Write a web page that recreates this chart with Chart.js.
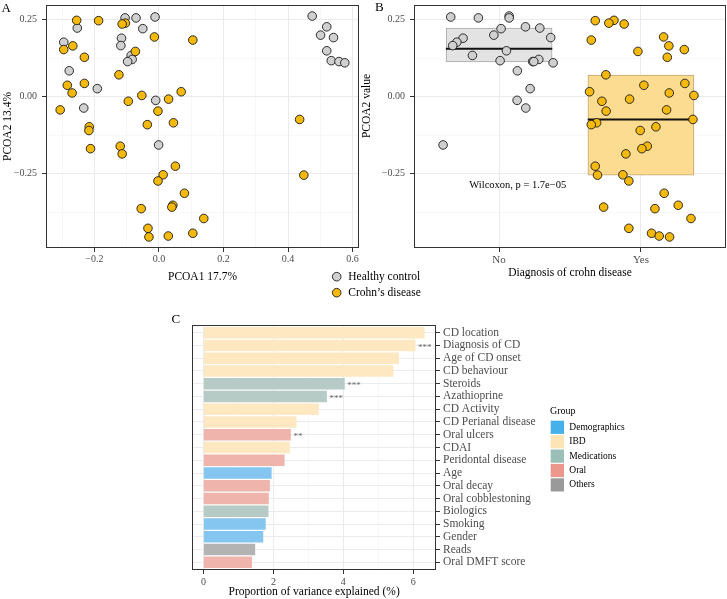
<!DOCTYPE html>
<html><head><meta charset="utf-8">
<script src="https://cdn.jsdelivr.net/npm/chart.js@4.4.1/dist/chart.umd.min.js"></script>
<style>
html,body{margin:0;padding:0;background:#fff;}
#wrap{position:relative;width:727px;height:599px;overflow:hidden;background:#fff;}
canvas{position:absolute;left:-30px;top:-30px;}
</style></head><body>
<div id="wrap">
<canvas id="cA" width="787" height="659"></canvas>
<canvas id="cB" width="787" height="659"></canvas>
<canvas id="cC" width="787" height="659"></canvas>
</div>
<script>
// ---------- DATA ----------
// Healthy controls: PCoA axis 1, axis 2, and horizontal jitter used in panel B
const hcPCOA1 = [0.475,-0.012,-0.105,-0.071,0.520,-0.253,-0.050,0.501,0.541,-0.116,-0.295,-0.118,0.520,-0.086,-0.083,0.534,-0.097,0.558,0.576,-0.278,-0.191,-0.010,-0.233,-0.001];
const hcPCOA2 = [0.262,0.259,0.256,0.256,0.227,0.223,0.221,0.200,0.192,0.190,0.177,0.166,0.149,0.134,0.121,0.117,0.114,0.114,0.110,0.084,0.026,-0.012,-0.037,-0.157];
const hcJitter = [0.071,-0.341,-0.146,0.071,0.186,0.287,0.014,-0.037,0.364,-0.254,-0.298,-0.327,0.052,-0.188,0.280,0.007,0.237,0.245,0.381,0.129,0.219,0.127,0.188,-0.395];
// Crohn's disease
const cdPCOA1 = [-0.255,-0.187,-0.104,-0.114,-0.014,0.105,-0.267,-0.295,-0.073,-0.231,-0.124,-0.231,-0.284,0.069,-0.269,-0.053,0.030,-0.095,-0.306,-0.003,0.436,0.045,-0.036,-0.216,-0.217,-0.120,-0.212,-0.114,0.051,0.013,0.449,-0.003,0.079,0.043,0.040,-0.055,0.139,-0.034,0.105,0.029,-0.031];
const cdPCOA2 = [0.248,0.247,0.239,0.236,0.194,0.184,0.165,0.153,0.147,0.128,0.071,0.043,0.037,0.016,0.012,0.004,-0.008,-0.015,-0.043,-0.047,-0.074,-0.085,-0.091,-0.098,-0.110,-0.161,-0.169,-0.186,-0.226,-0.254,-0.255,-0.274,-0.314,-0.353,-0.359,-0.364,-0.396,-0.428,-0.444,-0.453,-0.456];
const cdJitter = [-0.190,-0.322,-0.226,-0.118,0.160,-0.350,0.197,0.306,-0.021,0.186,-0.247,0.310,0.021,-0.362,0.200,0.374,-0.080,-0.275,0.181,-0.245,0.367,-0.312,-0.350,0.106,-0.005,0.045,0.007,-0.106,-0.322,-0.127,-0.306,-0.085,0.164,0.263,-0.263,0.099,0.353,-0.085,0.075,0.129,0.202];

// Panel B boxes
const boxGroups = ['No', 'Yes'];
const boxQ1 = [0.113, -0.255];
const boxMedian = [0.156, -0.074];
const boxQ3 = [0.223, 0.070];
const wilcoxonLabel = 'Wilcoxon, p = 1.7e\u221205';
const wilcoxonAt = [0.79, -0.288];

// Panel C
const features = ['CD location','Diagnosis of CD','Age of CD onset','CD behaviour','Steroids','Azathioprine','CD Activity','CD Perianal disease','Oral ulcers','CDAI','Peridontal disease','Age','Oral decay','Oral cobblestoning','Biologics','Smoking','Gender','Reads','Oral DMFT score'];
const variance = [6.32,6.06,5.59,5.43,4.04,3.53,3.30,2.66,2.50,2.47,2.32,1.95,1.90,1.87,1.86,1.78,1.71,1.48,1.39];
const featureGroup = ['IBD','IBD','IBD','IBD','Medications','Medications','IBD','IBD','Oral','IBD','Oral','Demographics','Oral','Oral','Medications','Demographics','Demographics','Others','Oral'];
const significance = ['','***','','','***','***','','','**','','','','','','','','','',''];
const groupNames = ['Demographics','IBD','Medications','Oral','Others'];

// Ticks
const pcoa1Ticks = [-0.3,-0.2,-0.1,0,0.1,0.2,0.3,0.4,0.5,0.6];
const pcoa1Labeled = [-0.2,0,0.2,0.4,0.6];
const pcoa2Ticks = [-0.375,-0.25,-0.125,0,0.125,0.25];
const pcoa2Labeled = [-0.25,0,0.25];
const varTicks = [0,1,2,3,4,5,6];
const varLabeled = [0,2,4,6];

// ---------- STYLE ----------
const OFF = 30; // canvases are shifted by -OFF so layout padding never clips
const SERIF = "'Liberation Serif','Times New Roman',serif";
const tickFont = {family: SERIF, size: 10};
const titleFont = {family: SERIF, size: 11.5};
const GRID_MAJOR = '#ebebeb', GRID_MINOR = '#f4f4f4', AXIS_DARK = '#333333';
const HC_FILL = '#d0d0d0', CD_FILL = '#f5b90b', PT_EDGE = '#1a1a1a';
const barColors = {Demographics:'#84c6ef', IBD:'#fde8c2', Medications:'#b6cbc6', Oral:'#efb4ab', Others:'#b3b3b3'};
const keyColors = {Demographics:'#45b1e8', IBD:'#fde4b4', Medications:'#9bbfb6', Oral:'#ec978b', Others:'#9a9a9a'};

function near(a,b){return Math.abs(a-b)<1e-9;}
function isIn(list,v){return list.some(t=>near(t,v));}
function fmt(v,d){const s=Math.abs(v).toFixed(d);return (v<-1e-12?'\u2212':'')+s;}
function pad(l,r,t,b){return {left:l+OFF,right:r+OFF,top:t+OFF,bottom:b+OFF};}

function linearAxis(o){
  return {
    type:'linear', min:o.min, max:o.max, reverse:!!o.reverse, position:o.position, offset:false, beginAtZero:false,
    afterBuildTicks: s => { s.ticks = o.ticks.map(v => ({value:v})); },
    afterFit: s => { if (o.width!=null) s.width=o.width; if (o.height!=null) s.height=o.height; },
    ticks:{autoSkip:false, maxRotation:0, minRotation:0, padding:o.pad, font:o.font||tickFont, color:'#4d4d4d',
      callback: v => o.label(v)},
    grid:{drawTicks:true, tickLength:4, drawOnChartArea:true, offset:false,
      color: c => (c.tick && isIn(o.major,c.tick.value)) ? GRID_MAJOR : GRID_MINOR,
      lineWidth: c => (c.tick && isIn(o.major,c.tick.value)) ? 1 : 0.6,
      tickColor: c => (c.tick && isIn(o.major,c.tick.value)) ? AXIS_DARK : 'rgba(0,0,0,0)',
      tickWidth:1},
    border:{display:false},
    title: o.title ? {display:true, text:o.title, font:titleFont, color:'#000', padding:o.titlePad||{top:0,bottom:0}} : {display:false}
  };
}

const panelBorder = {id:'panelBorder', afterDatasetsDraw(chart){
  const a=chart.chartArea, ctx=chart.ctx;
  ctx.save(); ctx.strokeStyle='#333'; ctx.lineWidth=1;
  ctx.strokeRect(Math.round(a.left)+0.5, Math.round(a.top)+0.5, Math.round(a.right-a.left)-1, Math.round(a.bottom-a.top)-1);
  ctx.restore();
}};

function txt(ctx, s, x, y, size, align, color, base){
  ctx.font = size+'px '+SERIF; ctx.fillStyle=color||'#000';
  ctx.textAlign=align||'left'; ctx.textBaseline=base||'middle';
  ctx.fillText(s,x,y);
}

const baseOpts = {responsive:false, animation:false, events:[], devicePixelRatio:1};

// ---------- PANEL A ----------
const decorA = {id:'decorA', afterDraw(chart){
  const ctx=chart.ctx; ctx.save(); ctx.translate(OFF,OFF);
  txt(ctx,'A',1.5,9,13);
  const items=[['Healthy control',HC_FILL,276.7],['Crohn\u2019s disease',CD_FILL,292.7]];
  items.forEach(it=>{
    ctx.beginPath(); ctx.arc(336.7,it[2],4.3,0,Math.PI*2);
    ctx.fillStyle=it[1]; ctx.fill(); ctx.lineWidth=0.9; ctx.strokeStyle=PT_EDGE; ctx.stroke();
    txt(ctx,it[0],348.3,it[2]+0.5,11.5,'left','#000');
  });
  ctx.restore();
}};

new Chart(document.getElementById('cA'), {
  type:'scatter',
  data:{datasets:[
    {label:'Healthy control', data:hcPCOA1.map((x,i)=>({x, y:hcPCOA2[i]})), backgroundColor:HC_FILL, borderColor:PT_EDGE, borderWidth:0.9, pointRadius:4.3, order:1},
    {label:'Crohn\u2019s disease', data:cdPCOA1.map((x,i)=>({x, y:cdPCOA2[i]})), backgroundColor:CD_FILL, borderColor:PT_EDGE, borderWidth:0.9, pointRadius:4.3, order:0}
  ]},
  options:Object.assign({}, baseOpts, {
    layout:{padding:pad(0,368,5,315.4)},
    plugins:{legend:{display:false}, tooltip:{enabled:false}},
    scales:{
      x: linearAxis({min:-0.350,max:0.620,ticks:pcoa1Ticks,major:pcoa1Labeled,pad:1,height:35.6,
          label:v=>isIn(pcoa1Labeled,v)?fmt(v,1):'', title:'PCOA1 17.7%'}),
      y: linearAxis({min:-0.4919,max:0.2979,ticks:pcoa2Ticks,major:pcoa2Labeled,pad:5,width:46,
          label:v=>isIn(pcoa2Labeled,v)?fmt(v,2):'', title:'PCOA2 13.4%', titlePad:{top:1.4,bottom:0}})
    }
  }),
  plugins:[panelBorder, decorA]
});

// ---------- PANEL B ----------
const boxWidth = 0.75;
const decorB = {id:'decorB', afterDraw(chart){
  const ctx=chart.ctx; ctx.save(); ctx.translate(OFF,OFF);
  txt(ctx,'B',375,8,13);
  ctx.translate(367,106); ctx.rotate(-Math.PI/2);
  txt(ctx,'PCOA2 value',0,0,11.5,'center','#000');
  ctx.restore();
}, afterDatasetsDraw(chart){
  const ctx=chart.ctx, xs=chart.scales.x, ys=chart.scales.y;
  ctx.save();
  txt(ctx,wilcoxonLabel,xs.getPixelForValue(wilcoxonAt[0]),ys.getPixelForValue(wilcoxonAt[1]),10.5,'left','#000');
  ctx.restore();
}};

new Chart(document.getElementById('cB'), {
  type:'scatter',
  data:{datasets:[
    {type:'bar', label:'box', data:boxGroups.map((g,i)=>({x:i+1, y:[boxQ1[i],boxQ3[i]]})),
      backgroundColor:['#e3e3e3','#fcdc91'], borderColor:['#a8a8a8','#c2a676'], borderWidth:1, borderSkipped:false,
      barThickness:106, grouped:false, order:4},
    {type:'line', label:'median No', data:[{x:1-boxWidth/2,y:boxMedian[0]},{x:1+boxWidth/2,y:boxMedian[0]}],
      borderColor:'#111', borderWidth:2, pointRadius:0, order:3},
    {type:'line', label:'median Yes', data:[{x:2-boxWidth/2,y:boxMedian[1]},{x:2+boxWidth/2,y:boxMedian[1]}],
      borderColor:'#111', borderWidth:2, pointRadius:0, order:3},
    {label:'No', data:hcPCOA2.map((y,i)=>({x:1+hcJitter[i], y})), backgroundColor:HC_FILL, borderColor:PT_EDGE, borderWidth:0.9, pointRadius:4.3, order:1},
    {label:'Yes', data:cdPCOA2.map((y,i)=>({x:2+cdJitter[i], y})), backgroundColor:CD_FILL, borderColor:PT_EDGE, borderWidth:0.9, pointRadius:4.3, order:0}
  ]},
  options:Object.assign({}, baseOpts, {
    layout:{padding:pad(360,1,5,319)},
    plugins:{legend:{display:false}, tooltip:{enabled:false}},
    scales:{
      x: linearAxis({min:0.4,max:2.6,ticks:[1,2],major:[1,2],pad:2,height:32,font:{family:SERIF,size:11},
          label:v=>boxGroups[Math.round(v)-1]||'', title:'Diagnosis of crohn disease'}),
      y: linearAxis({min:-0.4919,max:0.2979,ticks:pcoa2Ticks,major:pcoa2Labeled,pad:5,width:54,
          label:v=>isIn(pcoa2Labeled,v)?fmt(v,2):''})
    }
  }),
  plugins:[panelBorder, decorB]
});

// ---------- PANEL C ----------
const decorC = {id:'decorC', afterDraw(chart){
  const ctx=chart.ctx, xs=chart.scales.x, ys=chart.scales.y;
  ctx.save();
  significance.forEach((s,i)=>{
    if(!s) return;
    txt(ctx,s,xs.getPixelForValue(variance[i])+2.5,ys.getPixelForValue(i+1)+2,9,'left','#666');
  });
  ctx.translate(OFF,OFF);
  txt(ctx,'C',171.5,320,13);
  txt(ctx,'Group',550,411,10,'left','#000');
  groupNames.forEach((g,k)=>{
    const cy=427.3+14.4*k;
    ctx.fillStyle=keyColors[g]; ctx.fillRect(550.7,cy-6.6,13.3,13.2);
    txt(ctx,g,569.3,cy,9.5,'left','#000');
  });
  ctx.restore();
}};

new Chart(document.getElementById('cC'), {
  type:'bar',
  data:{datasets:[{label:'variance', data:variance.map((v,i)=>({x:v, y:i+1})),
    backgroundColor:featureGroup.map(g=>barColors[g]), borderWidth:0,
    barPercentage:0.9, categoryPercentage:1}]},
  options:Object.assign({}, baseOpts, {
    indexAxis:'y',
    layout:{padding:pad(192.3,171,325,0)},
    plugins:{legend:{display:false}, tooltip:{enabled:false}},
    scales:{
      x: linearAxis({min:-0.3165,max:6.6465,ticks:varTicks,major:varLabeled,pad:2,height:29,
          label:v=>isIn(varLabeled,v)?String(v):'', title:'Proportion of variance explained (%)'}),
      y: linearAxis({min:0.4,max:19.6,reverse:true,position:'right',ticks:features.map((f,i)=>i+1),
          major:features.map((f,i)=>i+1),pad:3,width:120,font:{family:SERIF,size:11.5},
          label:v=>features[Math.round(v)-1]||''})
    }
  }),
  plugins:[panelBorder, decorC]
});
</script>
</body></html>
